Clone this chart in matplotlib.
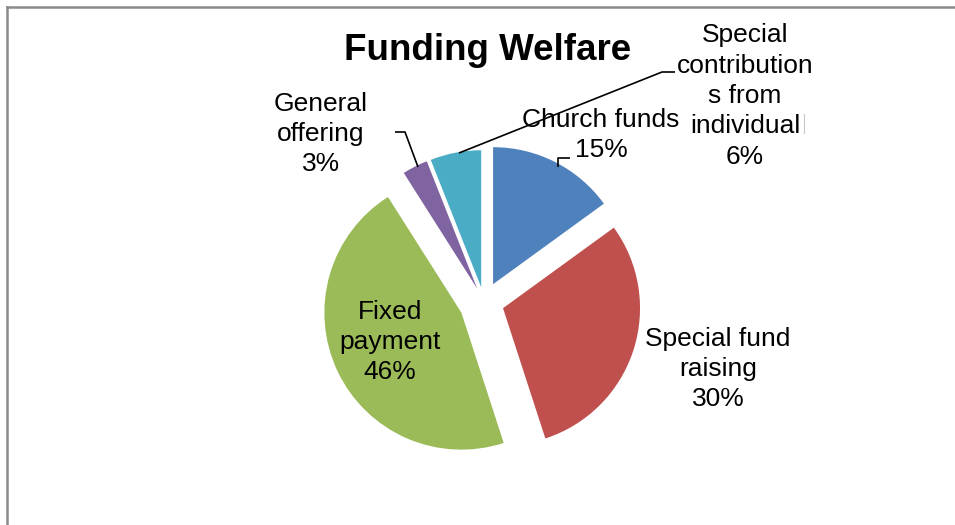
import matplotlib
matplotlib.use("Agg")
import matplotlib.pyplot as plt
from matplotlib.lines import Line2D

# Funding sources for welfare (percent of total)
categories = ["Church funds", "Special fund raising", "Fixed payment",
              "General offering", "Special contributions from individual"]
values = [15, 30, 46, 3, 6]
label_lines = ["Church funds", "Special fund\nraising", "Fixed\npayment",
               "General\noffering", "Special\ncontribution\ns from\nindividual"]

colors = ["#4F81BD", "#C0504D", "#9BBB59", "#8064A2", "#4BACC6"]
explode = [20, 20, 25, 15, 15]

W, H = 955, 525
fig = plt.figure(figsize=(W / 100, H / 100), dpi=100)
ax = fig.add_axes([0, 0, 1, 1])

cx, cy, r = 484, H - 302, 137
ax.pie(values, colors=colors, explode=explode, startangle=90,
       counterclock=False, center=(cx, cy), radius=r, frame=True,
       wedgeprops=dict(linewidth=0))
ax.set_xlim(0, W)
ax.set_ylim(0, H)
ax.set_aspect("equal")
ax.axis("off")

font = "Liberation Sans"
ax.text(488, H - 50, "Funding Welfare", fontsize=26.5, fontweight="bold",
        family=font, ha="center", va="center")

# label anchor points (px from top-left)
label_pos = [(601, 135), (718, 369), (390, 342), (321, 134), (745, 96)]
for text, v, (lx, ly) in zip(label_lines, values, label_pos):
    ax.text(lx, H - ly, f"{text}\n{v}%", fontsize=19, family=font,
            ha="center", va="center", linespacing=1.33, color="black")

# leader lines for the outer labels
leaders = [
    [(558, 167), (558, 158), (570, 158)],
    [(418, 167), (405, 132), (395, 132)],
    [(459, 153), (662, 72), (675, 72)],
]
for pts in leaders:
    xs = [p[0] for p in pts]
    ys = [H - p[1] for p in pts]
    ax.plot(xs, ys, color="black", linewidth=1.2, solid_capstyle="butt")

# chart area frame
fig.add_artist(Line2D([7 / W, 1], [1 - 7 / H, 1 - 7 / H], color="#8a8a8a",
                      linewidth=1.8))
fig.add_artist(Line2D([7 / W, 7 / W], [0, 1 - 7 / H], color="#8a8a8a",
                      linewidth=1.8))
fig.add_artist(Line2D([804 / W, 804 / W], [1 - 114 / H, 1 - 133 / H],
                      color="#c8c8c8", linewidth=0.8))

fig.savefig("out.png", dpi=100, facecolor="white")
